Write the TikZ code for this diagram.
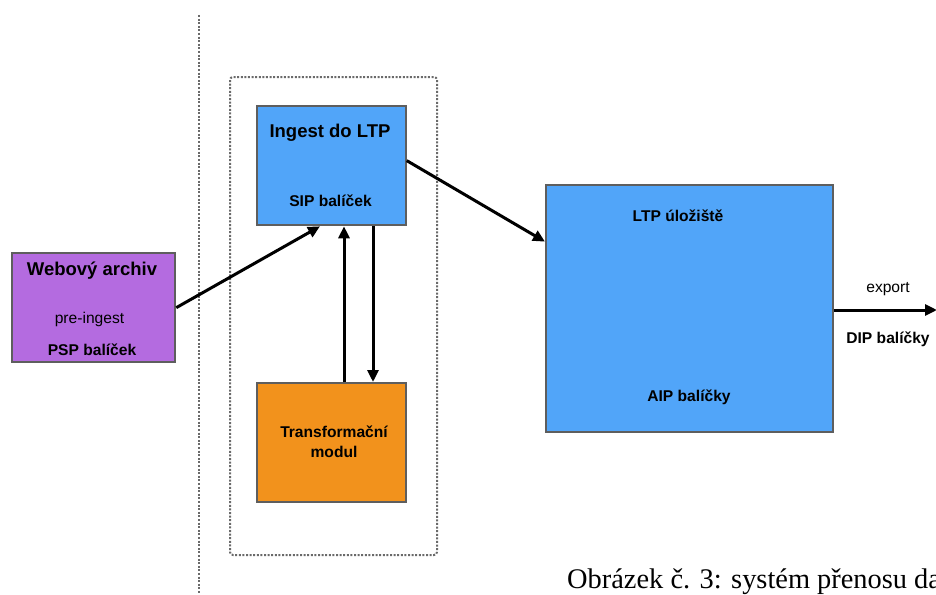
\documentclass[tikz,border=0pt]{standalone}
\usepackage{fontspec}
\setmainfont{Liberation Sans}
\newfontfamily\capfont{Liberation Serif}
\usetikzlibrary{arrows.meta,calc}

\definecolor{boxblue}{HTML}{51A5F9}
\definecolor{boxpurple}{HTML}{B46BE0}
\definecolor{boxorange}{HTML}{F2921C}
\definecolor{boxedge}{HTML}{5E5E5E}
\definecolor{dotgray}{HTML}{6A6A6A}

\tikzset{
  block/.style={draw=boxedge, line width=2.3pt, inner sep=0pt, anchor=north west},
  bigtitle/.style={font=\bfseries\fontsize{18.5}{20}\selectfont, anchor=base, inner sep=0pt},
  boldlabel/.style={font=\bfseries\fontsize{15.6}{17}\selectfont, anchor=base, inner sep=0pt},
  plainlabel/.style={font=\fontsize{15.6}{17}\selectfont, anchor=base, inner sep=0pt},
  flow/.style={line width=3pt, -{Triangle[length=12pt,width=11pt]}},
  dotline/.style={draw=dotgray, line width=2pt, dash pattern=on 2pt off 1.6pt}
}

\begin{document}
\begin{tikzpicture}[x=1pt,y=-1pt]
\useasboundingbox (0,0) rectangle (936,594);
\clip (0,0) rectangle (936,594);

% separators
\coordinate (septop) at (199,15);
\coordinate (sepbot) at (199,594);
\draw[dotline] (septop) -- (sepbot);
\draw[dotline, rounded corners=3pt] (230,77) rectangle (437,555);

% blocks
\node[block, fill=boxpurple, minimum width=163pt, minimum height=109pt] (web) at (11,252) {};
\node[block, fill=boxblue, minimum width=148.5pt, minimum height=119pt] (ingest) at (256,105) {};
\node[block, fill=boxorange, minimum width=148.5pt, minimum height=118.5pt] (trans) at (256,382) {};
\node[block, fill=boxblue, minimum width=287pt, minimum height=247pt] (ltp) at (545,184) {};

% block texts
\node[bigtitle] (webtitle) at (92,275) {Webový archiv};
\node[plainlabel] (webpre) at (89.5,323) {pre-ingest};
\node[boldlabel] (webpsp) at (92,355) {PSP balíček};

\node[bigtitle] (ingtitle) at (330,137) {Ingest do LTP};
\node[boldlabel] (ingsip) at (330.5,206) {SIP balíček};

\node[boldlabel] (transtxt) at (334,437) {Transformační};
\node[boldlabel] (transtxt2) at (334,457) {modul};

\node[boldlabel] (ltptitle) at (678,221) {LTP úložiště};
\node[boldlabel] (ltpaip) at (689,401) {AIP balíčky};

% connectors
\draw[flow] (web.east) -- ([xshift=64pt]ingest.south west);
\draw[flow] ([yshift=5pt]ingest.east) -- ([yshift=67pt]ltp.west);
\draw[flow] ([xshift=88pt]trans.north west) -- ([xshift=88pt]ingest.south west);
\draw[flow] ([xshift=117pt]ingest.south west) -- ([xshift=117pt]trans.north west);

\coordinate (exportend) at (937,310);
\draw[flow] (ltp.east |- exportend) -- (exportend);
\node[plainlabel] (exportlbl) at (888,292) {export};
\node[boldlabel] (diplbl) at (888,343) {DIP balíčky};

% caption, running past the right edge
\node[anchor=base west, inner sep=0pt, font=\capfont\fontsize{28.4}{32}\selectfont] (caption) at (567,588) {Obrázek č. 3: systém přenosu dat};
\end{tikzpicture}
\end{document}
